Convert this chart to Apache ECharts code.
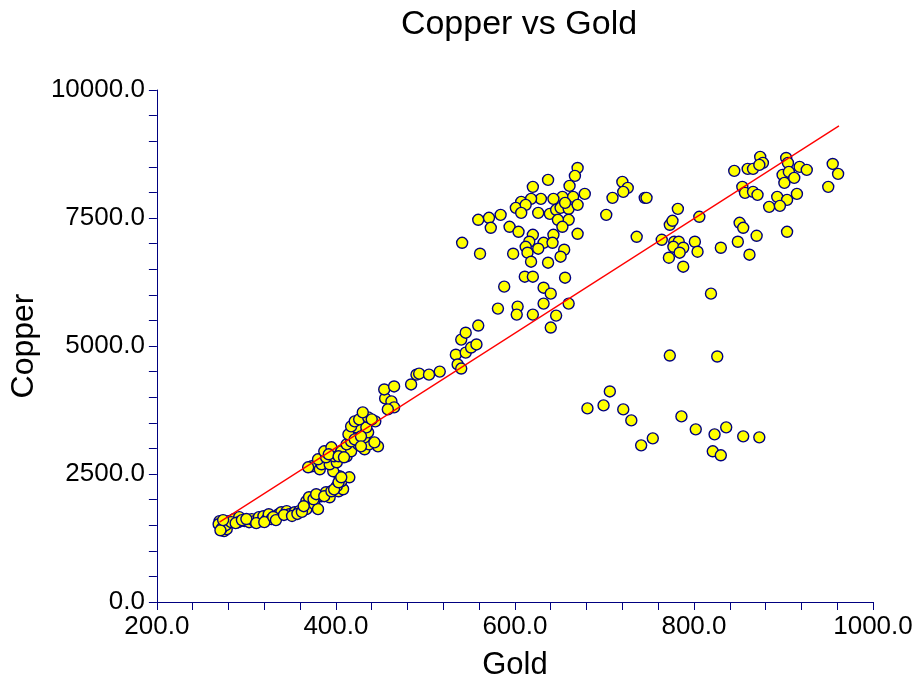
<!DOCTYPE html>
<html>
<head>
<meta charset="utf-8">
<script src="https://cdn.jsdelivr.net/npm/echarts@6/dist/echarts.min.js"></script>
<style>html,body{margin:0;padding:0;background:#fff}#c{width:917px;height:686px}</style>
</head>
<body>
<div id="c"></div>
<script>
var goldValues = [
270,272,275,278,276,269,280,286,292,291,298,303,306,309,314,317,319,323,325,328,336,339,345,348,354,359,367,367,370,376,380,384,389,393,403,408,
273,277,283,288,295,300,311,320,330,333,342,351,357,362,271,274,
364,375,378,387,395,401,406,415,404,397,398,403,406,
373,382,384,393,380,401,389,398,412,387,395,406,417,432,447,437,425,412,417,426,432,414,436,423,434,417,421,444,426,436,430,369,392,403,409,421,428,443,440,428,
455,462,465,458,454,465,484,490,493,504,516,
534,536,540,545,551,557,540,545,559,
670,667,637,661,620,678,653,643,665,629,618,607,601,612,607,626,639,646,651,660,670,656,660,648,653,643,620,616,632,642,612,626,614,655,651,618,637,598,561,559,571,584,573,594,604,670,611,620,656,588,632,640,581,603,602,620,632,660,646,640,541,
702,709,720,726,721,745,747,736,764,773,776,782,778,783,777,788,784,772,788,801,804,806,773,830,849,851,855,870,862,845,860,866,874,877,873,854,857,866,871,903,905,918,926,899,906,901,912,915,893,904,884,896,904,955,961,950,819,826,
706,681,699,721,730,741,754,786,802,823,836,855,873,821,830
];
var copperValues = [
1579,1481,1384,1423,1559,1520,1579,1618,1657,1559,1579,1559,1618,1579,1657,1579,1676,1618,1715,1618,1715,1754,1774,1715,1754,1774,1813,1969,2046,1910,1813,2066,2144,2046,2163,2202,
1450,1500,1560,1540,1600,1620,1540,1560,1660,1600,1700,1680,1720,1760,1400,1600,
1871,2007,2105,2066,2163,2261,2358,2436,2456,2553,2200,2339,2436,
2651,2592,2690,2690,2787,2729,2826,2846,2846,2943,3021,2943,2943,2982,3040,3079,3079,3079,3138,3235,3216,3274,3313,3411,3411,3430,3528,3528,3567,3606,3703,2631,2885,2846,2826,3177,3235,3118,3567,3040,
3976,3918,3801,3762,4151,4210,4249,4440,4460,4440,4500,
4830,4640,4560,4870,4970,5030,5125,5260,5400,
8478,8322,8244,8127,8108,7971,7913,7874,7913,7874,7874,7815,7698,7757,7600,7600,7581,7659,7698,7679,7757,7796,7465,7465,7328,7172,7172,7036,7016,7016,6938,6900,6822,6880,6744,6646,6627,6802,6802,7465,7504,7562,7309,7328,7231,7192,6354,6354,6334,6159,6139,6022,5730,5770,5613,5613,5828,5828,5594,5360,7016,
7562,7894,8205,8088,8010,7894,7894,7133,7075,7367,7445,7679,7036,7036,6938,6919,6822,6724,6549,7036,6841,7523,4814,6919,7036,7406,7309,7153,6783,8420,8459,8459,8693,8576,8537,8108,7991,8010,7952,8673,8576,8498,8439,8342,8400,8186,8283,7971,7913,7854,7718,7737,7231,8556,8361,8108,6022,4795,
4112,3781,3840,3762,3547,3060,3196,3625,3372,3274,3411,3235,3216,2943,2865
];
var fitGold = [270, 962];
var fitCopper = [1560, 9300];
var xTickLabels = [200, 400, 600, 800, 1000];
var yTickLabels = [0, 2500, 5000, 7500, 10000];

var points = goldValues.map(function (g, i) { return [g, copperValues[i]]; });
var fitLine = fitGold.map(function (g, i) { return [g, fitCopper[i]]; });

var navy = '#000080';
var fontFam = '"Liberation Sans", Arial, sans-serif';
var chart = echarts.init(document.getElementById('c'), null, {renderer: 'canvas'});
chart.setOption({
  backgroundColor: '#ffffff',
  animation: false,
  title: {
    text: 'Copper vs Gold',
    left: 514, top: 3, textAlign: 'center',
    textStyle: {fontFamily: fontFam, fontSize: 34, fontWeight: 'normal', color: '#000'}
  },
  grid: {left: 155, right: 44, top: 90, bottom: 83, containLabel: false},
  xAxis: {
    type: 'value', min: 200, max: 1000, interval: 40,
    name: 'Gold', nameLocation: 'middle', nameGap: 48,
    nameTextStyle: {fontFamily: fontFam, fontSize: 31, color: '#000'},
    axisLine: {show: true, lineStyle: {color: navy, width: 1}},
    axisTick: {show: true, length: 8, lineStyle: {color: navy}},
    splitLine: {show: false},
    axisLabel: {
      fontFamily: fontFam, fontSize: 26, color: '#000', margin: 12,
      showMinLabel: true, showMaxLabel: true,
      formatter: function (v) { return xTickLabels.indexOf(v) >= 0 ? v.toFixed(1) : ''; }
    }
  },
  yAxis: {
    type: 'value', min: 0, max: 10000, interval: 500,
    name: 'Copper', nameLocation: 'middle', nameGap: 110, nameRotate: 90,
    nameTextStyle: {fontFamily: fontFam, fontSize: 32, color: '#000'},
    axisLine: {show: true, lineStyle: {color: navy, width: 1}},
    axisTick: {show: true, length: 8, lineStyle: {color: navy}},
    splitLine: {show: false},
    axisLabel: {
      fontFamily: fontFam, fontSize: 26, color: '#000', margin: 12,
      showMinLabel: true, showMaxLabel: true,
      formatter: function (v) { return yTickLabels.indexOf(v) >= 0 ? v.toFixed(1) : ''; }
    }
  },
  series: [
    {
      type: 'scatter', data: points, symbol: 'circle', symbolSize: 11,
      itemStyle: {color: '#ffff00', borderColor: navy, borderWidth: 1.4, opacity: 1},
      z: 2
    },
    {
      type: 'line', data: fitLine, symbol: 'none', showSymbol: false,
      lineStyle: {color: '#ff0000', width: 1.3}, z: 3
    }
  ]
});
</script>
</body>
</html>
